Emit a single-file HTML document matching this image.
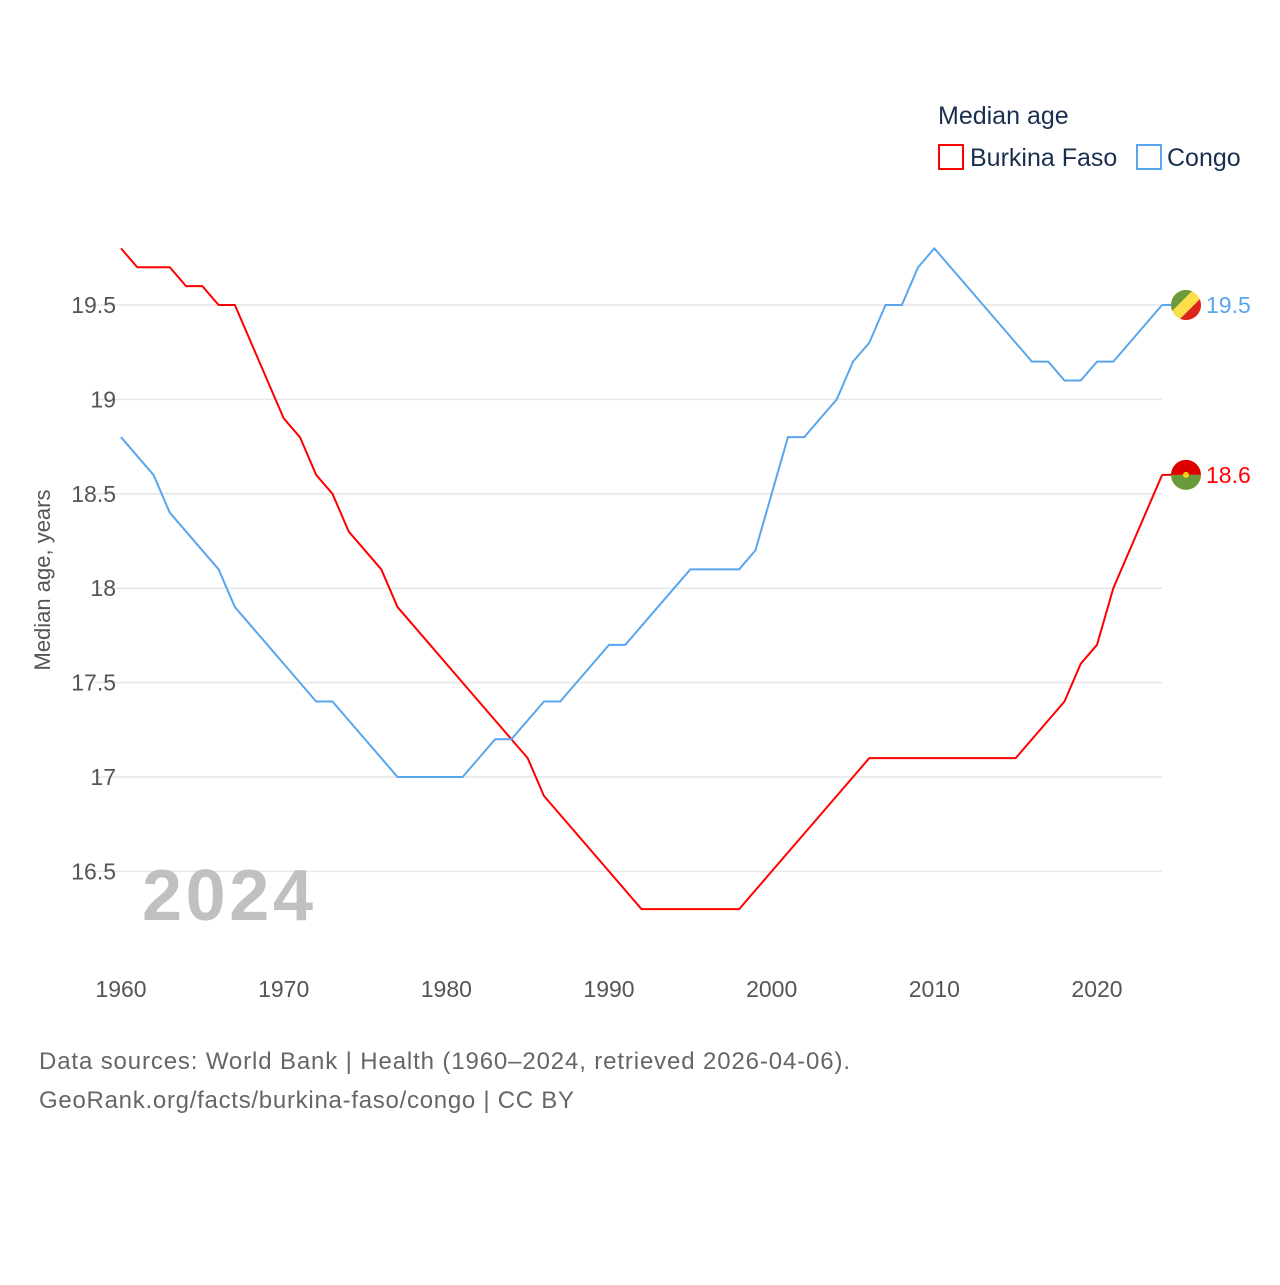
<!DOCTYPE html>
<html><head><meta charset="utf-8"><style>
body{margin:0;background:#fff;font-family:"Liberation Sans",sans-serif}
svg text{font-family:"Liberation Sans",sans-serif}
</style></head><body>
<svg id="chart" width="1280" height="1280">
<text x="938" y="124" font-size="25" fill="#1a2e4f">Median age</text>
<g><rect x="939" y="145" width="24" height="24" fill="none" stroke="#f00" stroke-width="2"/><text x="970" y="166" font-size="25" fill="#1a2e4f">Burkina Faso</text></g>
<g><rect x="1137" y="145" width="24" height="24" fill="none" stroke="#5aa5f0" stroke-width="2"/><text x="1167" y="166" font-size="25" fill="#1a2e4f">Congo</text></g>
<text transform="translate(50,580) rotate(-90)" text-anchor="middle" font-size="22" fill="#555">Median age, years</text>
<g id="grid"></g><g id="yt"></g><g id="xt"></g>
<text x="142" y="920" font-size="72" font-weight="bold" fill="#c0c0c0" textLength="171">2024</text>
<g id="lines"></g>
<text x="39" y="1069" font-size="24" fill="#666" textLength="811">Data sources: World Bank | Health (1960–2024, retrieved 2026-04-06).</text>
<text x="39" y="1108" font-size="24" fill="#666" textLength="535">GeoRank.org/facts/burkina-faso/congo | CC BY</text>
</svg>
<script>
const years=[];for(let y=1960;y<=2024;y++)years.push(y);
const burkina=[19.8,19.7,19.7,19.7,19.6,19.6,19.5,19.5,19.3,19.1,18.9,18.8,18.6,18.5,18.3,18.2,18.1,17.9,17.8,17.7,17.6,17.5,17.4,17.3,17.2,17.1,16.9,16.8,16.7,16.6,16.5,16.4,16.3,16.3,16.3,16.3,16.3,16.3,16.3,16.4,16.5,16.6,16.7,16.8,16.9,17.0,17.1,17.1,17.1,17.1,17.1,17.1,17.1,17.1,17.1,17.1,17.2,17.3,17.4,17.6,17.7,18.0,18.2,18.4,18.6];
const congo=[18.8,18.7,18.6,18.4,18.3,18.2,18.1,17.9,17.8,17.7,17.6,17.5,17.4,17.4,17.3,17.2,17.1,17.0,17.0,17.0,17.0,17.0,17.1,17.2,17.2,17.3,17.4,17.4,17.5,17.6,17.7,17.7,17.8,17.9,18.0,18.1,18.1,18.1,18.1,18.2,18.5,18.8,18.8,18.9,19.0,19.2,19.3,19.5,19.5,19.7,19.8,19.7,19.6,19.5,19.4,19.3,19.2,19.2,19.1,19.1,19.2,19.2,19.3,19.4,19.5];
const yTicks=[16.5,17,17.5,18,18.5,19,19.5];
const xTicks=[1960,1970,1980,1990,2000,2010,2020];
const X=y=>121+(y-1960)*16.267;
const Y=v=>305+(19.5-v)*188.8;
const NS='http://www.w3.org/2000/svg';
function mk(p,t,a){const e=document.createElementNS(NS,t);for(const k in a)e.setAttribute(k,a[k]);p.appendChild(e);return e;}
const g=document.getElementById('grid'),yt=document.getElementById('yt'),xt=document.getElementById('xt'),L=document.getElementById('lines');
yTicks.forEach(v=>{const l=mk(g,'line',{x1:95,x2:1162,y1:Y(v),y2:Y(v),stroke:'#e6e6e6','stroke-width':1.5});


const t=mk(yt,'text',{x:116,y:Y(v)+8,'text-anchor':'end','font-size':23,fill:'#555'});t.textContent=v;

});
xTicks.forEach(v=>{const t=mk(xt,'text',{x:X(v),y:997,'text-anchor':'middle','font-size':23,fill:'#555'});t.textContent=v;

});
function series(d,c,name){const p=mk(L,'polyline',{points:d.map((v,i)=>X(years[i])+','+Y(v)).join(' '),fill:'none',stroke:c,'stroke-width':2});


const last=d[d.length-1];
const cn=mk(L,'line',{x1:X(years[years.length-1]),x2:1180,y1:Y(last),y2:Y(last),stroke:c,'stroke-width':2});


const t=mk(L,'text',{x:1206,y:Y(last)+8,'font-size':23,fill:c});t.textContent=last;


return last;}
const lb=series(burkina,'#f00','burkina-faso');
const lc=series(congo,'#5aa5f0','congo');
const fb=mk(L,'g',{});


const cy=Y(lb);
mk(fb,'path',{d:`M1171,${cy} a15,15 0 0 1 30,0 z`,fill:'#de0000'});
mk(fb,'path',{d:`M1171,${cy} a15,15 0 0 0 30,0 z`,fill:'#6b9a3a'});
mk(fb,'circle',{cx:1186,cy:cy,r:3,fill:'#fcd116'});
const fc=mk(L,'g',{});


const cc=Y(lc);
mk(fc,'clipPath',{id:'cf'}).appendChild(document.createElementNS(NS,'circle'));
const ci=fc.querySelector('clipPath circle');ci.setAttribute('cx',1186);ci.setAttribute('cy',cc);ci.setAttribute('r',15);
const gg=mk(fc,'g',{'clip-path':'url(#cf)'});
mk(gg,'rect',{x:1171,y:cc-15,width:30,height:30,fill:'#fbde4a'});
mk(gg,'path',{d:`M1171,${cc-15} L1193,${cc-15} L1171,${cc+7} z`,fill:'#6b9a3a'});
mk(gg,'path',{d:`M1201,${cc+15} L1179,${cc+15} L1201,${cc-7} z`,fill:'#dc241f'});
</script>
</body></html>
